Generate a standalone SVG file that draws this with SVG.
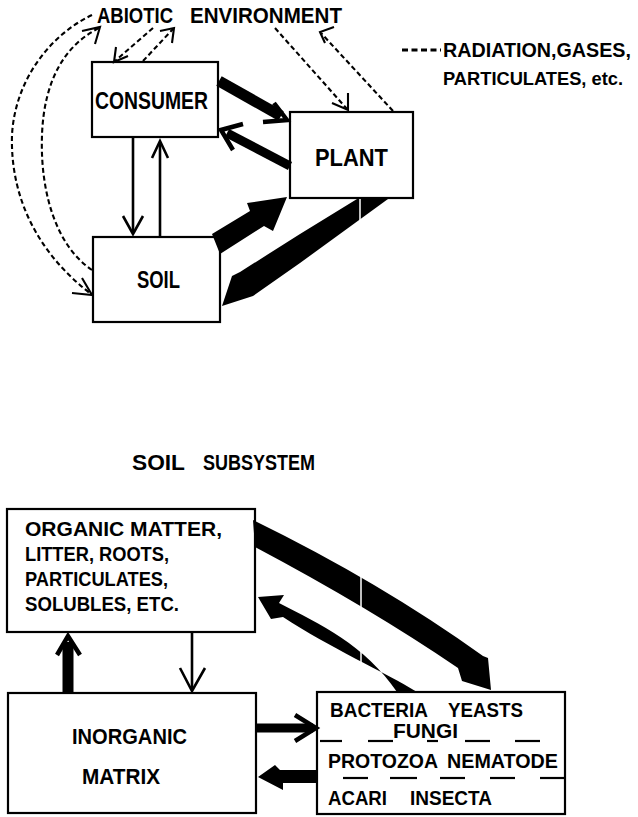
<svg xmlns="http://www.w3.org/2000/svg" width="638" height="817" viewBox="0 0 638 817">
<style>
.box{fill:#fff;stroke:#000;stroke-width:2.2}
.lbl{font-family:"Liberation Sans",Arial,sans-serif;font-weight:bold;fill:#000}
.dash{fill:none;stroke:#000;stroke-width:2.1;stroke-dasharray:5 3}
.head{fill:none;stroke:#000;stroke-width:2.1;stroke-linejoin:miter}
.thin{fill:none;stroke:#000;stroke-width:2.6}
.chev{fill:none;stroke:#000;stroke-width:4.5;stroke-linejoin:miter}
.fat{fill:#000;stroke:none}
.gap{stroke:#fff;stroke-width:1.5}
.sep{stroke:#000;stroke-width:2.2}
</style>
<rect width="638" height="817" fill="#fff"/>

<g id="abiotic">
<text class="lbl" y="23" font-size="22"><tspan x="97" textLength="76" lengthAdjust="spacingAndGlyphs">ABIOTIC</tspan><tspan x="190" textLength="152" lengthAdjust="spacingAndGlyphs">ENVIRONMENT</tspan></text>
</g>

<g id="legend">
<line x1="402" y1="50" x2="441" y2="50" stroke="#000" stroke-width="3" stroke-dasharray="6 3.5"/>
<text class="lbl" x="443" y="57" font-size="20" textLength="188" lengthAdjust="spacingAndGlyphs">RADIATION,GASES,</text>
<text class="lbl" x="443" y="85" font-size="19" textLength="180" lengthAdjust="spacingAndGlyphs">PARTICULATES, etc.</text>
</g>

<g id="consumer">
<rect class="box" x="92" y="62" width="126" height="75"/>
<text class="lbl" x="95" y="109" font-size="24" textLength="113" lengthAdjust="spacingAndGlyphs">CONSUMER</text>
</g>

<g id="plant">
<rect class="box" x="290" y="112" width="123" height="86"/>
<text class="lbl" x="315" y="166" font-size="24" textLength="73" lengthAdjust="spacingAndGlyphs">PLANT</text>
</g>

<g id="soil">
<rect class="box" x="93" y="237" width="127" height="85"/>
<text class="lbl" x="137" y="288" font-size="24" textLength="43" lengthAdjust="spacingAndGlyphs">SOIL</text>
</g>

<g id="soil-subsystem-title">
<text class="lbl" y="470" font-size="22"><tspan x="132" textLength="53" lengthAdjust="spacingAndGlyphs">SOIL</tspan><tspan x="203" textLength="112" lengthAdjust="spacingAndGlyphs">SUBSYSTEM</tspan></text>
</g>

<g id="organic">
<rect class="box" x="7" y="509" width="248" height="123"/>
<text class="lbl" x="25" y="536" font-size="20" textLength="197" lengthAdjust="spacingAndGlyphs">ORGANIC MATTER,</text>
<text class="lbl" x="25" y="561" font-size="20" textLength="144" lengthAdjust="spacingAndGlyphs">LITTER, ROOTS,</text>
<text class="lbl" x="25" y="586" font-size="20" textLength="143" lengthAdjust="spacingAndGlyphs">PARTICULATES,</text>
<text class="lbl" x="25" y="611" font-size="20" textLength="154" lengthAdjust="spacingAndGlyphs">SOLUBLES, ETC.</text>
</g>

<g id="inorganic">
<rect class="box" x="8" y="693" width="248" height="120"/>
<text class="lbl" x="72" y="744" font-size="22" textLength="115" lengthAdjust="spacingAndGlyphs">INORGANIC</text>
<text class="lbl" x="82" y="784" font-size="22" textLength="78" lengthAdjust="spacingAndGlyphs">MATRIX</text>
</g>

<g id="organisms">
<rect class="box" x="317" y="692" width="248" height="122"/>
<text class="lbl" y="717" font-size="21"><tspan x="330" textLength="98" lengthAdjust="spacingAndGlyphs">BACTERIA</tspan><tspan x="448" textLength="75" lengthAdjust="spacingAndGlyphs">YEASTS</tspan></text>
<text class="lbl" x="393" y="738" font-size="21" textLength="65" lengthAdjust="spacingAndGlyphs">FUNGI</text>
<line class="sep" x1="320" y1="741" x2="342" y2="741"/>
<line class="sep" x1="368" y1="741" x2="393" y2="741"/>
<line class="sep" x1="427" y1="741" x2="438" y2="741"/>
<line class="sep" x1="465" y1="741" x2="490" y2="741"/>
<line class="sep" x1="515" y1="741" x2="540" y2="741"/>
<text class="lbl" y="768" font-size="21"><tspan x="328" textLength="110" lengthAdjust="spacingAndGlyphs">PROTOZOA</tspan><tspan x="447" textLength="111" lengthAdjust="spacingAndGlyphs">NEMATODE</tspan></text>
<line class="sep" x1="343" y1="778" x2="368" y2="778"/>
<line class="sep" x1="390" y1="778" x2="417" y2="778"/>
<line class="sep" x1="440" y1="778" x2="465" y2="778"/>
<line class="sep" x1="490" y1="778" x2="515" y2="778"/>
<line class="sep" x1="540" y1="778" x2="566" y2="778"/>
<text class="lbl" y="805" font-size="20"><tspan x="328" textLength="59" lengthAdjust="spacingAndGlyphs">ACARI</tspan><tspan x="410" textLength="82" lengthAdjust="spacingAndGlyphs">INSECTA</tspan></text>
</g>

<g id="connectors">
<!-- dashed abiotic exchanges -->
<path class="dash" d="M92,15 C50,35 15,80 12,135 C10,200 40,255 91,294"/>
<polyline class="head" points="72,293 92,295 82,278"/>
<path class="dash" d="M92,270 C55,245 40,190 42,135 C44,80 65,45 99,28"/>
<polyline class="head" points="82,31 100,27 95,44"/>
<line class="dash" x1="153" y1="28" x2="115" y2="61"/>
<polyline class="head" points="116,47 114,62 128,56"/>
<line class="dash" x1="143" y1="61" x2="173" y2="29"/>
<polyline class="head" points="160,31 174,28 172,43"/>
<line class="dash" x1="275" y1="28" x2="347" y2="109"/>
<polyline class="head" points="332,103 348,110 348,93"/>
<line class="dash" x1="393" y1="111" x2="321" y2="33"/>
<polyline class="head" points="334,27 320,32 325,43"/>

<!-- consumer <-> plant -->
<line x1="219" y1="81" x2="281" y2="116" stroke="#000" stroke-width="11"/>
<polyline class="chev" points="263,122 287,120 274,103"/>
<line x1="290" y1="166" x2="227" y2="133" stroke="#000" stroke-width="9"/>
<polyline class="chev" points="243,124 221,130 233,150"/>

<!-- consumer <-> soil -->
<line class="thin" x1="133" y1="137" x2="133" y2="233"/>
<polyline class="thin" points="123,216 133,234 143,216"/>
<line class="thin" x1="160" y1="237" x2="160" y2="142"/>
<polyline class="thin" points="152,158 160,141 168,158"/>

<!-- soil -> plant -->
<path class="fat" d="M212,234 L250,211 L247,203 L287,197 L273,231 L264,226 L220,254 Z"/>
<!-- plant -> soil -->
<path class="fat" d="M357,199 L388,199 L300,263 L253,296 L222,306 L232,276 L240,272 L300,234 Z"/>
<line class="gap" x1="360" y1="199" x2="360" y2="222"/>

<!-- organic -> organisms -->
<path class="fat" d="M253,520 Q380,582 483,656 L488,658 L491,690 L462,681 L458,668 Q370,608 255,547 Z"/>
<!-- organisms -> organic -->
<path class="fat" d="M258,597 L284,595 L279,603 C320,624 365,645 397,692 L417,692 C385,672 330,648 283,617 L271,619 Z"/>
<line class="gap" x1="361" y1="574" x2="361" y2="609"/>
<line class="gap" x1="361" y1="648" x2="361" y2="667"/>

<!-- organic <-> inorganic -->
<line class="thin" x1="192" y1="632" x2="192" y2="690"/>
<polyline class="thin" points="180,668 192,691 205,668"/>
<line x1="68" y1="693" x2="68" y2="642" stroke="#000" stroke-width="11"/>
<polyline class="chev" points="57,655 68,636 80,655"/>

<!-- inorganic <-> organisms -->
<line x1="256" y1="728" x2="313" y2="728" stroke="#000" stroke-width="9"/>
<polyline class="chev" points="295,715 316,728 295,741"/>
<path class="fat" d="M317,770 L317,783 L283,783 L283,790 L258,777 L275,765 L280,770 Z"/>
</g>
</svg>
